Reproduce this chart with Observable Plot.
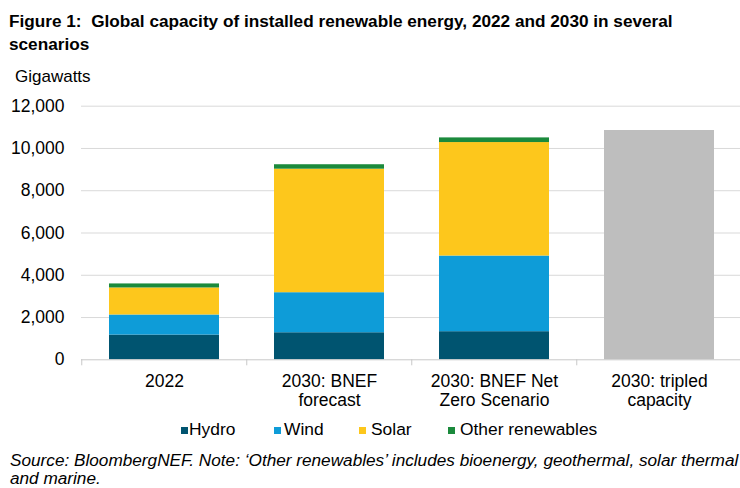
<!DOCTYPE html>
<html>
<head>
<meta charset="utf-8">
<script src="https://cdn.jsdelivr.net/npm/d3@7"></script>
<script src="https://cdn.jsdelivr.net/npm/@observablehq/plot@0.6"></script>
<style>
  html, body { margin: 0; padding: 0; background: #fff; }
  #wrap { position: relative; width: 740px; height: 488px; overflow: hidden; font-family: Arial, "Liberation Sans", sans-serif; color: #000; }
  .title { position: absolute; left: 9px; top: 10px; font-weight: bold; font-size: 17.2px; line-height: 23px; white-space: nowrap; }
  .unit { position: absolute; left: 15px; top: 67px; font-size: 17px; line-height: 20px; }
  #chart { position: absolute; left: 0; top: 88px; }
  .leg { position: absolute; top: 420px; font-size: 17.4px; line-height: 18px; white-space: nowrap; }
  .sw { position: absolute; width: 7px; height: 7px; }
  .source { position: absolute; left: 10px; top: 451px; font-size: 17.2px; font-style: italic; line-height: 18px; white-space: nowrap; }
</style>
</head>
<body>
<div id="wrap">
  <div class="title">Figure 1:&nbsp; Global capacity of installed renewable energy, 2022 and 2030 in several<br>scenarios</div>
  <div class="unit">Gigawatts</div>
  <div id="chart"></div>
  <div id="legend"></div>
  <div class="source">Source: BloombergNEF. Note: ‘Other renewables’ includes bioenergy, geothermal, solar thermal<br>and marine.</div>
</div>
<script>
const categories = ["2022", "2030: BNEF forecast", "2030: BNEF Net Zero Scenario", "2030: tripled capacity"];
const tickLabels = ["2022", "2030: BNEF\nforecast", "2030: BNEF Net\nZero Scenario", "2030: tripled\ncapacity"];
const seriesNames = ["Hydro", "Wind", "Solar", "Other renewables"];
const seriesColors = ["#005470", "#0e9cd8", "#fdc71c", "#1b8a3c"];
const hydro = [1170, 1280, 1330];
const wind = [950, 1895, 3580];
const solar = [1280, 5845, 5370];
const other = [190, 210, 220];
const tripled = [10850];
const yTicks = [0, 2000, 4000, 6000, 8000, 10000, 12000];

const seriesValues = [hydro, wind, solar, other];
const stacked = [];
seriesNames.forEach((name, s) => {
  seriesValues[s].forEach((v, i) => stacked.push({scenario: categories[i], type: name, value: v}));
});
const tripledData = tripled.map(v => ({scenario: categories[3], value: v}));

const x0 = 81, x1 = 743;
const step = (x1 - x0) / categories.length;

const chart = Plot.plot({
  width: 740,
  height: 325,
  marginLeft: 81,
  marginRight: 0,
  marginTop: 17.7,
  marginBottom: 53.7,
  style: {fontFamily: "Arial, 'Liberation Sans', sans-serif", fontSize: "17.5px", color: "#000", background: "transparent", overflow: "visible"},
  x: {domain: categories, range: [x0, x1], paddingInner: 0.332, paddingOuter: 0.166, axis: null},
  y: {domain: [0, 12000], axis: null},
  color: {domain: seriesNames, range: seriesColors},
  marks: [
    Plot.ruleY(yTicks.slice(1), {stroke: "#d9d9d9", strokeWidth: 1}),
    Plot.axisY(yTicks, {tickSize: 0, tickPadding: 17, tickFormat: d3.format(","), fontSize: 17.5, fill: "#000", label: null}),
    Plot.barY(stacked, {x: "scenario", y: "value", fill: "type"}),
    Plot.barY(tripledData, {x: "scenario", y: "value", fill: "#bebebe"}),
    Plot.ruleY([0], {stroke: "#c8c8c8", strokeWidth: 1}),
    Plot.ruleX(categories, {x: d => d, dx: -step / 2, y1: 0, y2: 0, insetTop: 6, stroke: "#c8c8c8"}),
    Plot.text(categories, {x: d => d, y: 0, text: (d, i) => tickLabels[i], lineAnchor: "top", dy: 14, lineHeight: 1.08, fontSize: 17.5, fill: "#000"})
  ]
});
document.getElementById("chart").appendChild(chart);

// Legend
const legendPos = [[181, 189], [274, 284], [359, 371], [448, 460]];
const legend = document.getElementById("legend");
seriesNames.forEach((name, i) => {
  const sw = document.createElement("div");
  sw.className = "sw";
  sw.style.left = legendPos[i][0] + "px";
  sw.style.top = "426.5px";
  sw.style.background = seriesColors[i];
  legend.appendChild(sw);
  const t = document.createElement("div");
  t.className = "leg";
  t.style.left = legendPos[i][1] + "px";
  t.textContent = name;
  legend.appendChild(t);
});
</script>
</body>
</html>
